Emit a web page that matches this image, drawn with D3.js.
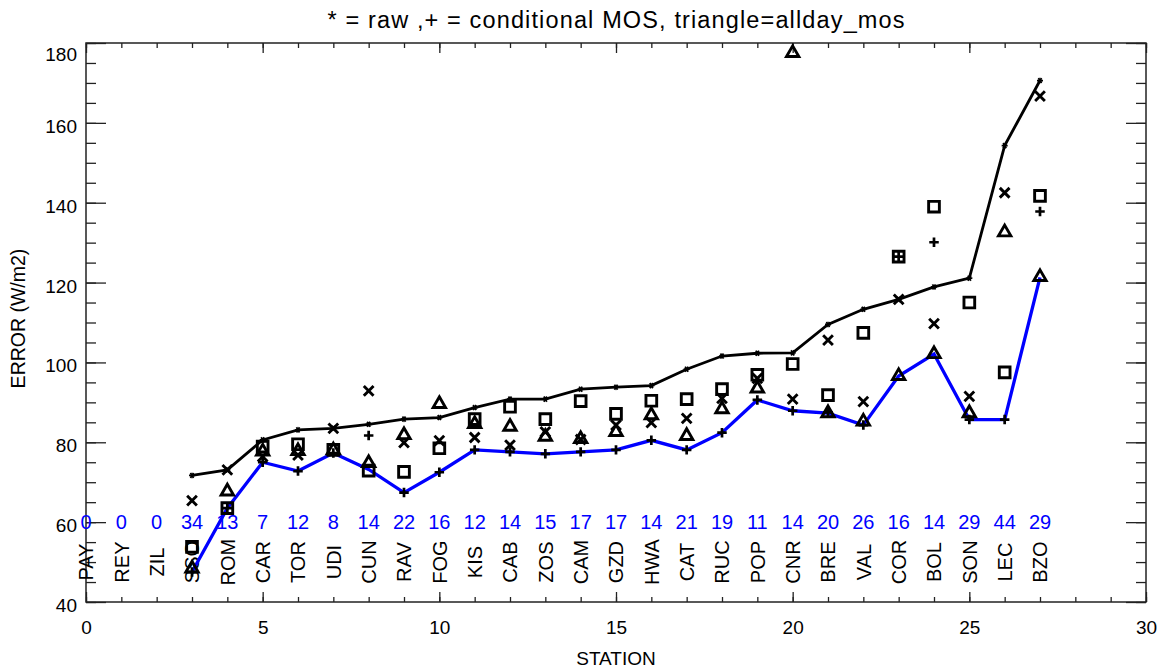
<!DOCTYPE html>
<html>
<head>
<meta charset="UTF-8">
<script src="https://d3js.org/d3.v7.min.js"></script>
<style>
    body { margin: 0; background: #fff; }
    svg { font-family: "Liberation Sans", Arial, sans-serif; }
    .axis path { display: none; }
    .axis line { stroke: #222; stroke-width: 1.3; }
    .axis text { font-size: 19px; fill: #000; }
</style>
</head>
<body>
<svg id="chart" width="1165" height="669"></svg>
<script>
    // station names and number of cases (blue numbers)
    const stations = ["PAY", "REY", "ZIL", "SSO", "ROM", "CAR", "TOR", "UDI", "CUN", "RAV", "FOG", "KIS", "CAB", "ZOS",
        "CAM", "GZD", "HWA", "CAT", "RUC", "POP", "CNR", "BRE", "VAL", "COR", "BOL", "SON", "LEC", "BZO"];
    const counts = [0, 0, 0, 34, 13, 7, 12, 8, 14, 22, 16, 12, 14, 15, 17, 17, 14, 21, 19, 11, 14, 20, 26, 16, 14, 29, 44, 29];

    // values start at station 3 (SSO)
    const firstStation = 3;
    const raw = [71.7, 73.1, 80.6, 83.1, 83.5, 84.5, 85.8, 86.2, 88.7, 90.8, 90.8, 93.3, 93.8, 94.2, 98.3, 101.6, 102.3,
        102.4, 109.5, 113.3, 115.8, 118.9, 121.1, 154.3, 170.6];
    const best = [47.5, 63.5, 75.0, 72.8, 77.3, 73.2, 67.4, 72.5, 78.1, 77.6, 77.1, 77.6, 78.1, 80.5, 78.1, 82.4, 90.6,
        87.9, 87.3, 84.3, 96.6, 102.1, 85.7, 85.7, 121.3];
    const xMarks = [65.4, 73.1, 76.4, 76.8, 83.5, 92.9, 79.9, 80.4, 81.2, 79.3, 82.6, 80.7, 84.3, 84.9, 86.0, 91.0, 96.0,
        90.8, 105.6, 90.2, 115.8, 109.7, 91.5, 142.5, 166.7];
    const plusMarks = [47.5, 63.5, 75.0, 72.8, 77.3, 81.7, 67.4, 72.5, 78.1, 77.6, 77.1, 77.6, 78.1, 80.5, 78.1, 82.4, 90.6,
        87.9, 87.5, 84.3, 126.5, 130.1, 85.7, 85.7, 137.8];
    const triMarks = [48.4, 67.7, 77.7, 77.8, 78.0, 74.8, 81.8, 89.6, 84.6, 83.9, 81.4, 80.8, 82.6, 86.8, 81.6, 88.3, 93.5,
        177.5, 87.3, 85.2, 96.6, 102.1, 87.3, 132.6, 121.4];
    const sqMarks = [53.8, 63.5, 78.9, 79.5, 78.1, 72.9, 72.6, 78.5, 85.8, 88.9, 85.8, 90.3, 87.1, 90.4, 90.8, 93.3, 96.9,
        99.6, 91.8, 107.4, 126.5, 139.0, 115.0, 97.5, 141.7];

    const xTicks = [0, 5, 10, 15, 20, 25, 30];
    const yTicks = [40, 60, 80, 100, 120, 140, 160, 180];

    const width = 1165, height = 669;
    const margin = { top: 43, right: 19, bottom: 67, left: 86 };

    const svg = d3.select("#chart");

    const x = d3.scaleLinear().domain([0, 30]).range([margin.left, width - margin.right]);
    const y = d3.scaleLinear().domain([40, 180]).range([height - margin.bottom, margin.top]);

    const pts = arr => arr.map((v, i) => ({ s: i + firstStation, v }));

    // axes: major + minor ticks, all pointing inward
    const bottom = height - margin.bottom, right = width - margin.right;
    svg.append("g").attr("class", "axis").attr("transform", `translate(0,${bottom})`)
        .call(d3.axisBottom(x).tickValues(xTicks).tickSize(-10).tickPadding(19).tickFormat(d3.format("d")));
    svg.append("g").attr("class", "axis").attr("transform", `translate(0,${bottom})`)
        .call(d3.axisBottom(x).tickValues(d3.range(0, 31)).tickSize(-5).tickFormat(""));
    svg.append("g").attr("class", "axis").attr("transform", `translate(0,${margin.top})`)
        .call(d3.axisTop(x).tickValues(xTicks).tickSize(-10).tickFormat(""));
    svg.append("g").attr("class", "axis").attr("transform", `translate(0,${margin.top})`)
        .call(d3.axisTop(x).tickValues(d3.range(0, 31)).tickSize(-5).tickFormat(""));

    const yl = svg.append("g").attr("class", "axis").attr("transform", `translate(${margin.left},0)`)
        .call(d3.axisLeft(y).tickValues(yTicks).tickSize(-20).tickPadding(9).tickFormat(d3.format("d")));
    yl.selectAll("text").attr("dy", d => d === 180 ? "0.9em" : "0.5em");
    svg.append("g").attr("class", "axis").attr("transform", `translate(${margin.left},0)`)
        .call(d3.axisLeft(y).tickValues(d3.range(40, 181, 5)).tickSize(-10).tickFormat(""));
    svg.append("g").attr("class", "axis").attr("transform", `translate(${right},0)`)
        .call(d3.axisRight(y).tickValues(yTicks).tickSize(-20).tickFormat(""));
    svg.append("g").attr("class", "axis").attr("transform", `translate(${right},0)`)
        .call(d3.axisRight(y).tickValues(d3.range(40, 181, 5)).tickSize(-10).tickFormat(""));

    svg.append("rect")
        .attr("x", margin.left).attr("y", margin.top)
        .attr("width", right - margin.left).attr("height", bottom - margin.top)
        .attr("fill", "none").attr("stroke", "#222").attr("stroke-width", 1.5);

    // counts and station names
    svg.append("g").selectAll("text")
        .data(counts)
        .join("text")
        .attr("x", (d, i) => x(i))
        .attr("y", y(60))
        .attr("dy", "0.36em")
        .attr("text-anchor", "middle")
        .style("font-size", "20px")
        .attr("fill", "#0000ff")
        .text(d => d);

    svg.append("g").selectAll("text")
        .data(stations)
        .join("text")
        .attr("transform", (d, i) => `translate(${x(i)},${y(50)}) rotate(-90)`)
        .attr("dy", "0.36em")
        .attr("text-anchor", "middle")
        .style("font-size", "20px")
        .text(d => d);

    // lines
    const line = d3.line().x(d => x(d.s)).y(d => y(d.v));

    svg.append("path")
        .datum(pts(raw))
        .attr("fill", "none")
        .attr("stroke", "#000")
        .attr("stroke-width", 2.8)
        .attr("d", line);

    svg.append("path")
        .datum(pts(best))
        .attr("fill", "none")
        .attr("stroke", "#0000ff")
        .attr("stroke-width", 3.3)
        .attr("d", line);

    // custom stroke symbols
    const crossX = { draw(ctx, size) { const r = Math.sqrt(size) / 2; ctx.moveTo(-r, -r); ctx.lineTo(r, r); ctx.moveTo(r, -r); ctx.lineTo(-r, r); } };
    const plus = { draw(ctx, size) { const r = Math.sqrt(size) / 2; ctx.moveTo(-r, 0); ctx.lineTo(r, 0); ctx.moveTo(0, -r); ctx.lineTo(0, r); } };
    const star = {
        draw(ctx, size) {
            const r = Math.sqrt(size) / 2;
            for (let k = 0; k < 3; k++) {
                const a = k * Math.PI / 3;
                ctx.moveTo(-r * Math.cos(a), -r * Math.sin(a));
                ctx.lineTo(r * Math.cos(a), r * Math.sin(a));
            }
        }
    };

    function marks(arr, type, size, sw) {
        svg.append("g").selectAll("path")
            .data(pts(arr))
            .join("path")
            .attr("transform", d => `translate(${x(d.s)},${y(d.v)})`)
            .attr("d", d3.symbol().type(type).size(size))
            .attr("fill", "none")
            .attr("stroke", "#000")
            .attr("stroke-width", sw);
    }

    marks(raw, star, 36, 1.8);
    marks(sqMarks, d3.symbolSquare, 115, 2.9);
    marks(triMarks, d3.symbolTriangle, 66, 2.9);
    marks(xMarks, crossX, 95, 2.9);
    marks(plusMarks, plus, 90, 2.7);

    // titles
    svg.append("text")
        .attr("x", (margin.left + right) / 2)
        .attr("y", 28)
        .attr("text-anchor", "middle")
        .attr("textLength", 577)
        .attr("lengthAdjust", "spacing")
        .style("font-size", "23.5px")
        .text("* = raw ,+ = conditional MOS,  triangle=allday_mos");

    svg.append("text")
        .attr("x", (margin.left + right) / 2)
        .attr("y", 665)
        .attr("text-anchor", "middle")
        .style("font-size", "19px")
        .text("STATION");

    svg.append("text")
        .attr("transform", `translate(25,${(margin.top + bottom) / 2 - 4}) rotate(-90)`)
        .attr("text-anchor", "middle")
        .style("font-size", "19.5px")
        .text("ERROR (W/m2)");
</script>
</body>
</html>
